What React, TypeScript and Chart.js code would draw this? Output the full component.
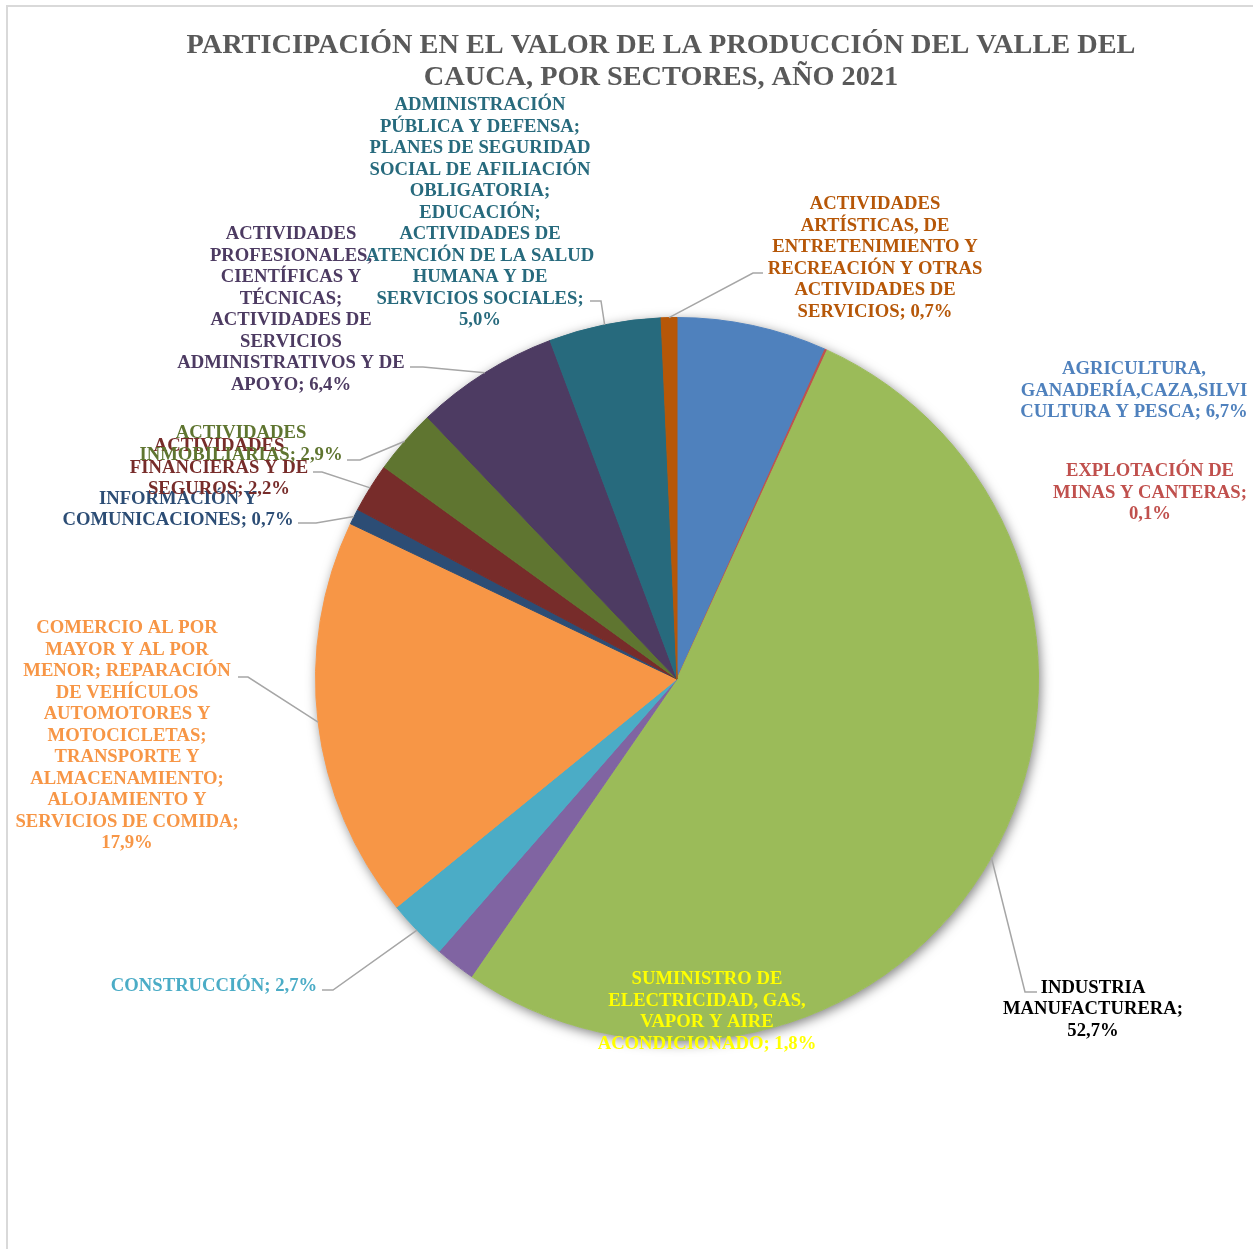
import React, { useEffect, useRef } from "react";
import { Chart, registerables } from "chart.js";

Chart.register(...registerables);

const TITLE_LINES = [
  "PARTICIPACIÓN EN EL VALOR DE LA PRODUCCIÓN DEL VALLE DEL",
  "CAUCA, POR SECTORES, AÑO 2021",
];

const categories = [
  "AGRICULTURA, GANADERÍA,CAZA,SILVICULTURA Y PESCA",
  "EXPLOTACIÓN DE MINAS Y CANTERAS",
  "INDUSTRIA MANUFACTURERA",
  "SUMINISTRO DE ELECTRICIDAD, GAS, VAPOR Y AIRE ACONDICIONADO",
  "CONSTRUCCIÓN",
  "COMERCIO AL POR MAYOR Y AL POR MENOR; REPARACIÓN DE VEHÍCULOS AUTOMOTORES Y MOTOCICLETAS; TRANSPORTE Y ALMACENAMIENTO; ALOJAMIENTO Y SERVICIOS DE COMIDA",
  "INFORMACIÓN Y COMUNICACIONES",
  "ACTIVIDADES FINANCIERAS Y DE SEGUROS",
  "ACTIVIDADES INMOBILIARIAS",
  "ACTIVIDADES PROFESIONALES, CIENTÍFICAS Y TÉCNICAS; ACTIVIDADES DE SERVICIOS ADMINISTRATIVOS Y DE APOYO",
  "ADMINISTRACIÓN PÚBLICA Y DEFENSA; PLANES DE SEGURIDAD SOCIAL DE AFILIACIÓN OBLIGATORIA; EDUCACIÓN; ACTIVIDADES DE ATENCIÓN DE LA SALUD HUMANA Y DE SERVICIOS SOCIALES",
  "ACTIVIDADES ARTÍSTICAS, DE ENTRETENIMIENTO Y RECREACIÓN Y OTRAS ACTIVIDADES DE SERVICIOS",
];

const values = [6.7, 0.1, 52.7, 1.8, 2.7, 17.9, 0.7, 2.2, 2.9, 6.4, 5.0, 0.7];

// Wrapped label text as shown in the chart; {v} is replaced by the value
const labelLines = [
  ["AGRICULTURA,", "GANADERÍA,CAZA,SILVI", "CULTURA Y PESCA; {v}"],
  ["EXPLOTACIÓN DE", "MINAS Y CANTERAS;", "{v}"],
  ["INDUSTRIA", "MANUFACTURERA;", "{v}"],
  ["SUMINISTRO DE", "ELECTRICIDAD, GAS,", "VAPOR Y AIRE", "ACONDICIONADO; {v}"],
  ["CONSTRUCCIÓN; {v}"],
  [
    "COMERCIO AL POR",
    "MAYOR Y AL POR",
    "MENOR; REPARACIÓN",
    "DE VEHÍCULOS",
    "AUTOMOTORES Y",
    "MOTOCICLETAS;",
    "TRANSPORTE Y",
    "ALMACENAMIENTO;",
    "ALOJAMIENTO Y",
    "SERVICIOS DE COMIDA;",
    "{v}",
  ],
  ["INFORMACIÓN Y", "COMUNICACIONES; {v}"],
  ["ACTIVIDADES", "FINANCIERAS Y DE", "SEGUROS; {v}"],
  ["ACTIVIDADES", "INMOBILIARIAS; {v}"],
  [
    "ACTIVIDADES",
    "PROFESIONALES,",
    "CIENTÍFICAS Y",
    "TÉCNICAS;",
    "ACTIVIDADES DE",
    "SERVICIOS",
    "ADMINISTRATIVOS Y DE",
    "APOYO; {v}",
  ],
  [
    "ADMINISTRACIÓN",
    "PÚBLICA Y DEFENSA;",
    "PLANES DE SEGURIDAD",
    "SOCIAL DE AFILIACIÓN",
    "OBLIGATORIA;",
    "EDUCACIÓN;",
    "ACTIVIDADES DE",
    "ATENCIÓN DE LA SALUD",
    "HUMANA Y DE",
    "SERVICIOS SOCIALES;",
    "{v}",
  ],
  [
    "ACTIVIDADES",
    "ARTÍSTICAS, DE",
    "ENTRETENIMIENTO Y",
    "RECREACIÓN Y OTRAS",
    "ACTIVIDADES DE",
    "SERVICIOS; {v}",
  ],
];

const sliceColors = [
  "#4F81BD",
  "#C0504D",
  "#9BBB59",
  "#8064A2",
  "#4BACC6",
  "#F79646",
  "#2C4D75",
  "#772C2A",
  "#5F7530",
  "#4D3B62",
  "#276A7D",
  "#B65708",
];

const labelColors = [
  "#4F81BD",
  "#C0504D",
  "#000000",
  "#FFFF00",
  "#4BACC6",
  "#F79646",
  "#2C4D75",
  "#772C2A",
  "#5F7530",
  "#4D3B62",
  "#276A7D",
  "#B65708",
];

// Label placement (center x, first baseline y) and leader-line elbows
type Layout = { x: number; y: number; elbow?: [number, number]; end?: number };
const labelLayout: Layout[] = [
  { x: 1134, y: 374 },
  { x: 1150, y: 476 },
  { x: 1093, y: 992.5, elbow: [1025, 992], end: 1037 },
  { x: 707, y: 984 },
  { x: 214, y: 991, elbow: [333, 990], end: 322 },
  { x: 127, y: 633, elbow: [248, 677], end: 238 },
  { x: 178, y: 503.5, elbow: [316, 523], end: 298 },
  { x: 219, y: 451, elbow: [322, 472], end: 313 },
  { x: 241, y: 438, elbow: [360, 460], end: 347 },
  { x: 291, y: 239, elbow: [423, 367], end: 410 },
  { x: 480, y: 110, elbow: [601, 301], end: 590 },
  { x: 875, y: 209, elbow: [753, 273], end: 763 },
];

const LABEL_FONT = "bold 18.67px 'Liberation Serif', 'Times New Roman', serif";
const TITLE_FONT = "bold 28.3px 'Liberation Serif', 'Times New Roman', serif";
const LINE_H = 21.5;

const fmt = (v: number) => v.toFixed(1).replace(".", ",") + "%";

const decorPlugin = {
  id: "decor",
  beforeDatasetsDraw(chart: any) {
    const meta = chart.getDatasetMeta(0);
    const arc = meta.data[0];
    if (!arc) return;
    const { x, y, outerRadius } = arc.getProps(["x", "y", "outerRadius"], true);
    const ctx = chart.ctx;
    ctx.save();
    ctx.shadowColor = "rgba(0,0,0,0.5)";
    ctx.shadowBlur = 12;
    ctx.shadowOffsetX = 2;
    ctx.shadowOffsetY = 3;
    ctx.beginPath();
    ctx.arc(x, y, outerRadius, 0, Math.PI * 2);
    ctx.fillStyle = "#ffffff";
    ctx.fill();
    ctx.restore();
  },
  afterDatasetsDraw(chart: any) {
    const ctx = chart.ctx;
    const meta = chart.getDatasetMeta(0);
    // leader lines
    ctx.save();
    ctx.strokeStyle = "#A6A6A6";
    ctx.lineWidth = 1.5;
    meta.data.forEach((arc: any, i: number) => {
      const lay = labelLayout[i];
      if (!lay.elbow) return;
      const p = arc.getProps(["x", "y", "startAngle", "endAngle", "outerRadius"], true);
      const mid = (p.startAngle + p.endAngle) / 2;
      const px = p.x + Math.cos(mid) * p.outerRadius;
      const py = p.y + Math.sin(mid) * p.outerRadius;
      ctx.beginPath();
      ctx.moveTo(px, py);
      ctx.lineTo(lay.elbow[0], lay.elbow[1]);
      ctx.lineTo(lay.end as number, lay.elbow[1]);
      ctx.stroke();
    });
    ctx.restore();
    // labels
    ctx.save();
    ctx.font = LABEL_FONT;
    ctx.textAlign = "center";
    ctx.textBaseline = "alphabetic";
    labelLines.forEach((lines, i) => {
      const lay = labelLayout[i];
      ctx.fillStyle = labelColors[i];
      lines.forEach((ln, k) => {
        ctx.fillText(ln.replace("{v}", fmt(values[i])), lay.x, lay.y + k * LINE_H);
      });
    });
    ctx.restore();
    // title
    ctx.save();
    ctx.font = TITLE_FONT;
    ctx.textAlign = "center";
    ctx.textBaseline = "alphabetic";
    ctx.fillStyle = "#595959";
    TITLE_LINES.forEach((t, k) => ctx.fillText(t, 661, 53 + k * 32));
    ctx.restore();
  },
};

export default function App() {
  const ref = useRef<HTMLCanvasElement | null>(null);
  useEffect(() => {
    if (!ref.current) return;
    const chart = new Chart(ref.current, {
      type: "pie",
      data: {
        labels: categories,
        datasets: [
          {
            data: values,
            backgroundColor: sliceColors,
            borderColor: sliceColors,
            borderWidth: 1,
          },
        ],
      },
      options: {
        responsive: false,
        animation: false,
        layout: { padding: { left: 315, top: 317, right: 214, bottom: 208 } },
        plugins: {
          legend: { display: false },
          tooltip: { enabled: false },
          title: { display: false },
        },
      },
      plugins: [decorPlugin],
    });
    return () => chart.destroy();
  }, []);

  return (
    <div
      style={{
        position: "fixed",
        left: 0,
        top: 0,
        width: 1253,
        height: 1249,
        overflow: "hidden",
        background: "#ffffff",
      }}
    >
      <div
        style={{
          position: "absolute",
          left: 6,
          top: 5,
          width: 1400,
          height: 1400,
          border: "2px solid #D9D9D9",
          boxSizing: "border-box",
        }}
      />
      <canvas
        ref={ref}
        width={1253}
        height={1249}
        style={{ position: "absolute", left: 0, top: 0, width: 1253, height: 1249 }}
      />
    </div>
  );
}
